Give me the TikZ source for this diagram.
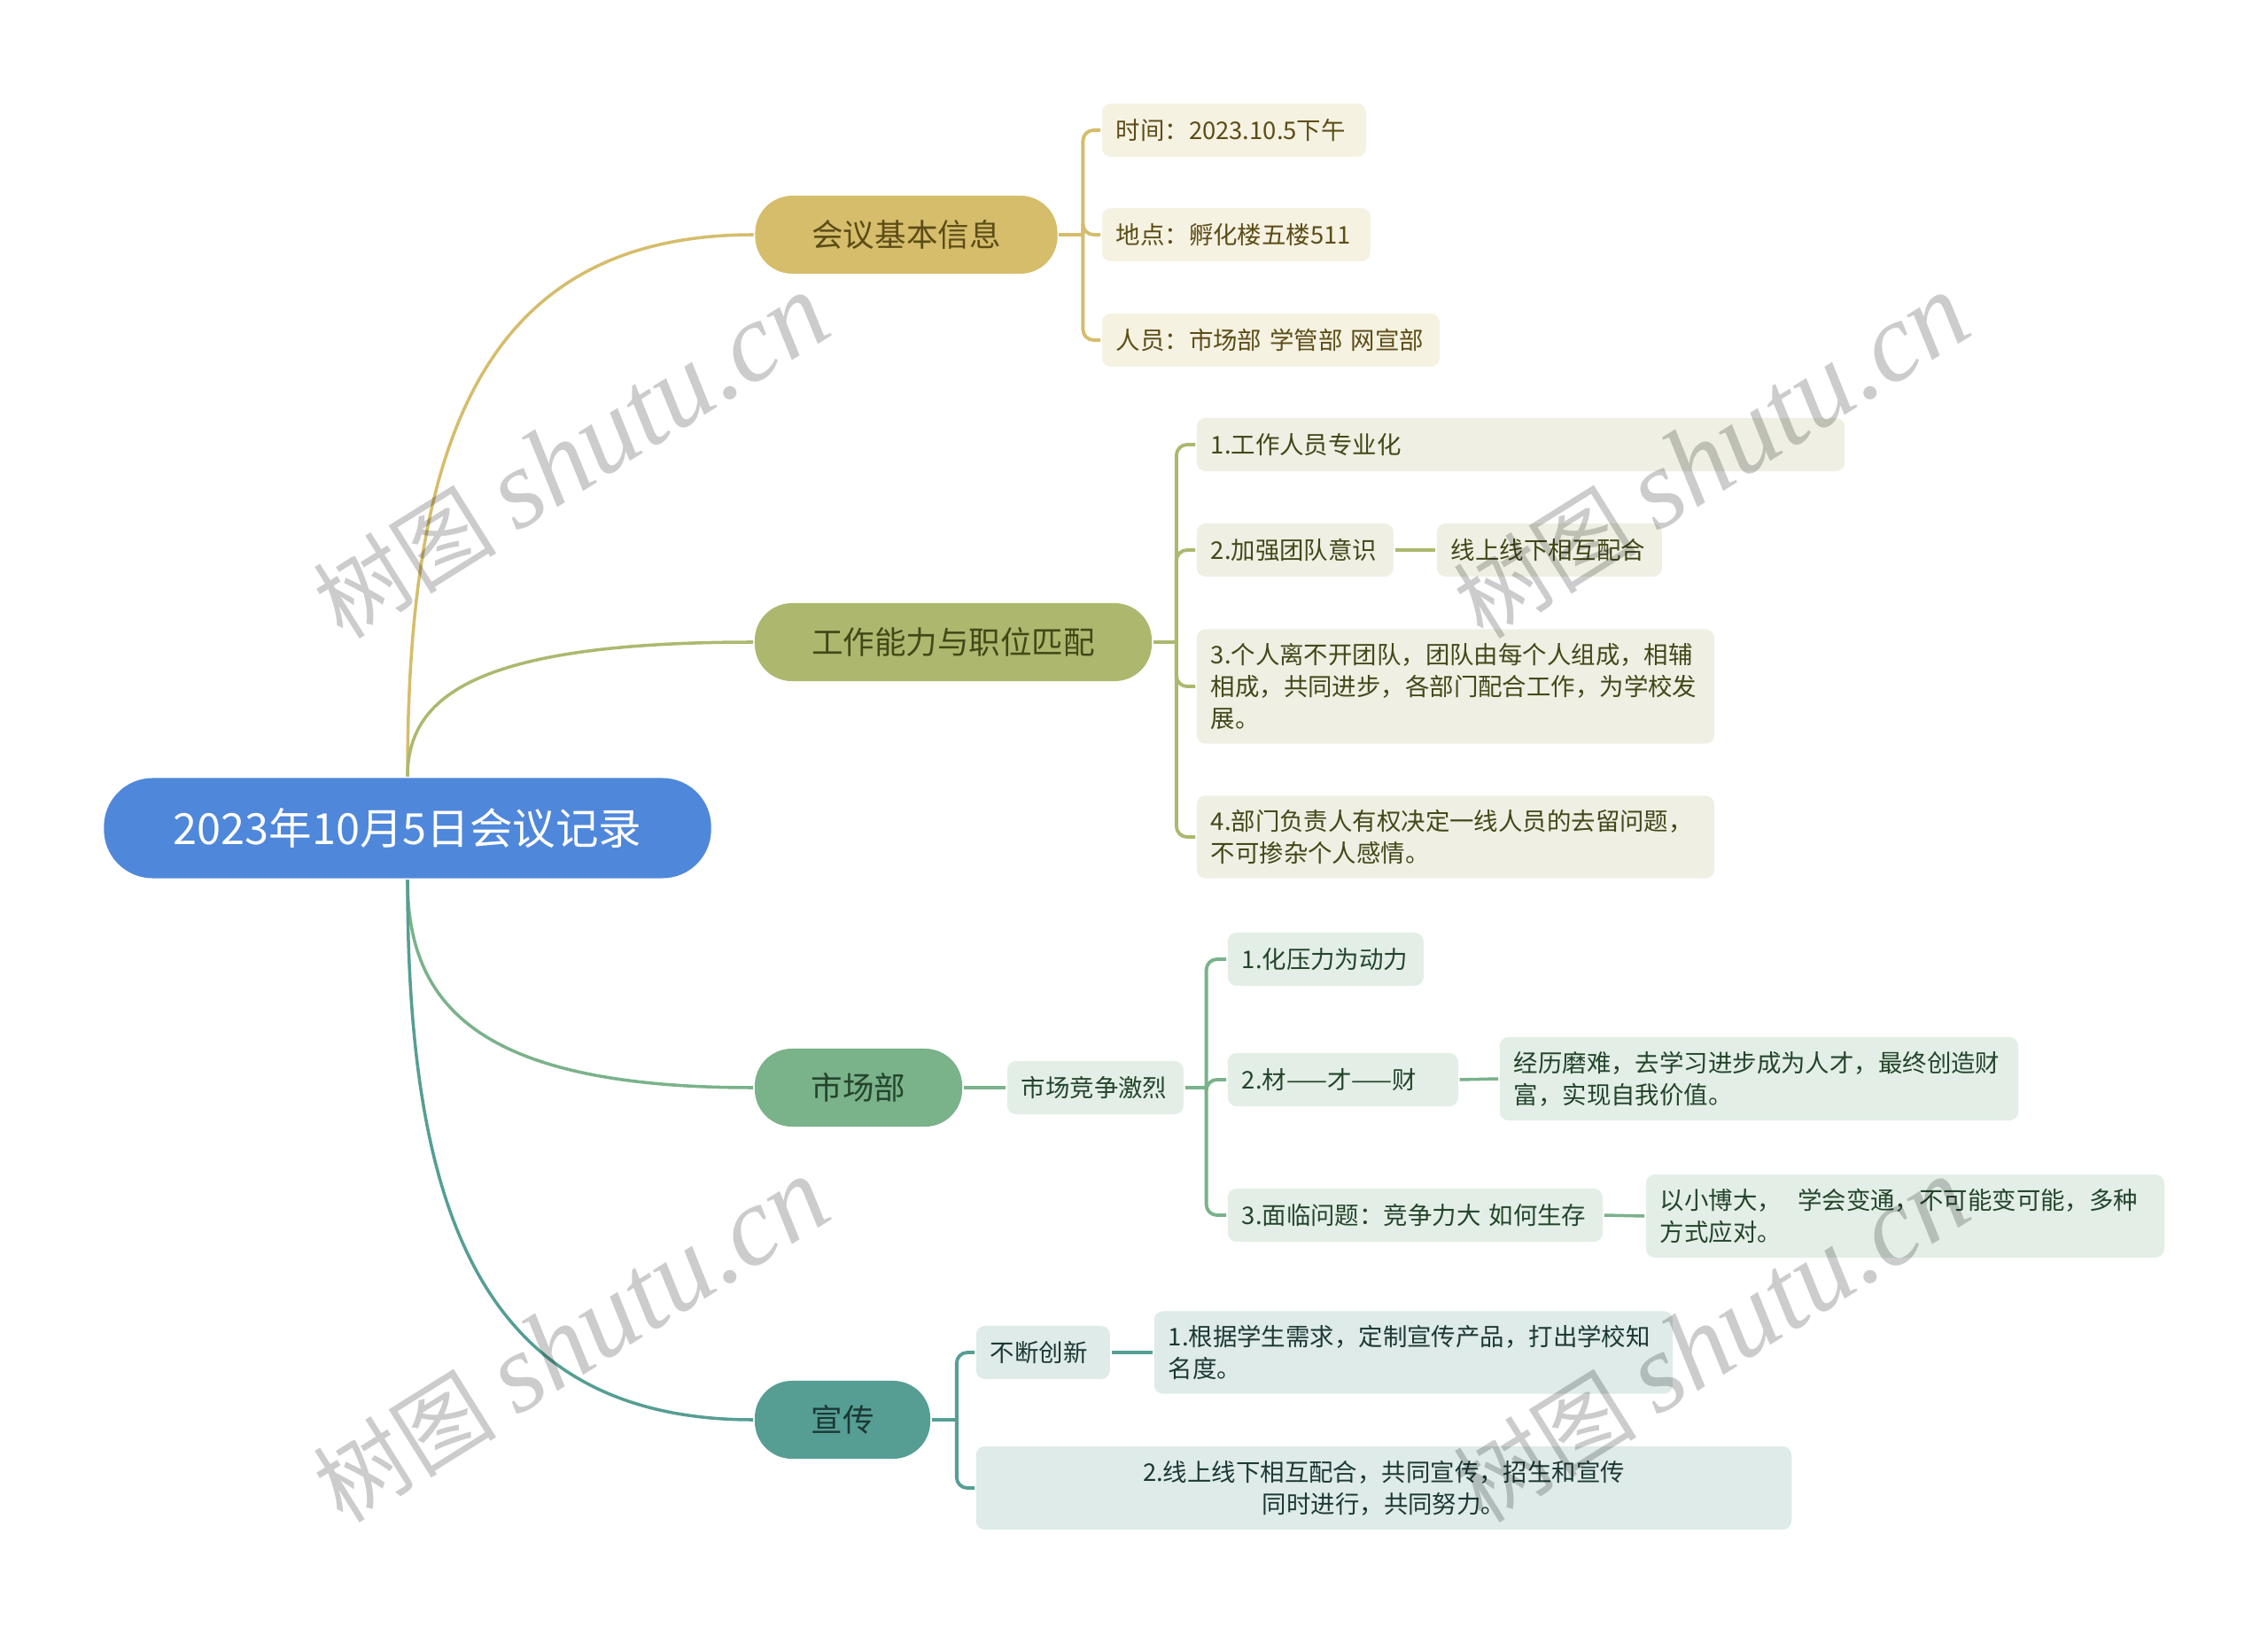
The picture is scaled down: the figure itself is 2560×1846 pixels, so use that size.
\documentclass[tikz,border=0pt]{standalone}
\usepackage{fontspec}
\newfontfamily\cjk{Noto Sans CJK SC}
\newfontfamily\wmserif{Liberation Serif}
\usetikzlibrary{calc}
\definecolor{rootC}{RGB}{79,135,218}
\definecolor{infoC}{RGB}{213,189,108}
\definecolor{infoL}{RGB}{246,242,226}
\definecolor{infoT}{RGB}{92,76,22}
\definecolor{workC}{RGB}{173,184,110}
\definecolor{workL}{RGB}{239,240,227}
\definecolor{workT}{RGB}{66,72,24}
\definecolor{marketC}{RGB}{122,178,138}
\definecolor{marketL}{RGB}{227,239,230}
\definecolor{marketT}{RGB}{36,68,44}
\definecolor{pubC}{RGB}{86,158,148}
\definecolor{pubL}{RGB}{222,235,233}
\definecolor{pubT}{RGB}{28,56,52}

\begin{document}
\begin{tikzpicture}[x=0.01cm, y=-0.01cm, line width=1pt, font=\cjk,
    root/.style={fill=rootC, text=white, rounded corners=0.55cm, minimum width=6.85cm, minimum height=1.13cm,
      font=\cjk\fontsize{13.8}{16}\selectfont},
    topic/.style={fill=#1C, text=#1T, rounded corners=0.42cm, minimum height=0.88cm,
      font=\cjk\fontsize{10.1}{12}\selectfont},
    leaf/.style={fill=#1L, text=#1T, rounded corners=0.1cm, anchor=west, align=left,
      inner xsep=0.16cm, inner ysep=0.16cm, minimum height=0.6cm, font=\cjk\fontsize{7.8}{10.2}\selectfont},
    link/.style={draw=#1C, line width=1pt},
    fork/.style={draw=#1C, line width=1.1pt, rounded corners=0.12cm},
    wmark/.style={rotate=32, opacity=0.2, text=black, inner sep=0pt}]
  \fill[white] (0,0) rectangle (2560,1846);
  % ================================================================ root and main topics
  \node[root] (root) at (460,935) {2023年10月5日会议记录};
  \node[topic=info, minimum width=3.41cm] (info) at (1023,265) {会议基本信息};
  \node[topic=work, minimum width=4.48cm] (work) at (1076,725) {工作能力与职位匹配};
  \node[topic=market, minimum width=2.34cm] (market) at (969,1228) {市场部};
  \node[topic=pub, minimum width=1.98cm] (pub) at (951,1603) {宣传};
  \foreach \t/\a in {info/north, work/north, market/south, pub/south}
    \draw[link=\t] (root.\a) .. controls ($(root.\a |- \t.west)!0.4!(root.\a)$)
      and ($(root.\a |- \t.west)!0.2!(\t.west)$) .. (\t.west);
  % ================================================================ meeting info
  \node[leaf=info, text width=2.66cm] (itime) at (1242,147) {时间：2023.10.5下午};
  \node[leaf=info, text width=2.71cm] (iplace) at (1242,265) {地点：孵化楼五楼511};
  \node[leaf=info, text width=3.49cm] (ipeople) at (1242,384) {人员：市场部 学管部 网宣部};
  \coordinate (infoJ) at ([xshift=0.27cm]info.east);
  \draw[link=info] (info.east) -- (infoJ);
  \foreach \n in {itime, iplace, ipeople} \draw[fork=info] (infoJ) |- (\n.west);
  % ================================================================ ability and post
  \node[leaf=work, text width=6.99cm] (w1) at (1349,502) {1.工作人员专业化};
  \node[leaf=work, text width=1.90cm] (w2) at (1349,621) {2.加强团队意识};
  \node[leaf=work, text width=2.22cm] (w2a) at (1620,621) {线上线下相互配合};
  \node[leaf=work, text width=5.52cm] (w3) at (1349,775)
    {3.个人离不开团队，团队由每个人组成，相辅\\相成，共同进步，各部门配合工作，为学校发\\展。};
  \node[leaf=work, text width=5.52cm] (w4) at (1349,945)
    {4.部门负责人有权决定一线人员的去留问题，\\不可掺杂个人感情。};
  \coordinate (workJ) at ([xshift=0.26cm]work.east);
  \draw[link=work] (work.east) -- (workJ);
  \foreach \n in {w1, w2, w3, w4} \draw[fork=work] (workJ) |- (\n.west);
  \draw[link=work] (w2.east) -- (w2a.west);
  % ================================================================ market
  \node[leaf=market, text width=1.67cm] (mcomp) at (1135,1228) {市场竞争激烈};
  \node[leaf=market, text width=1.89cm] (m1) at (1384,1083) {1.化压力为动力};
  \node[leaf=market, text width=2.28cm] (m2) at (1384,1219) {2.材——才——财};
  \node[leaf=market, text width=5.53cm] (m2a) at (1691,1218)
    {经历磨难，去学习进步成为人才，最终创造财\\富，实现自我价值。};
  \node[leaf=market, text width=3.91cm] (m3) at (1384,1372) {3.面临问题：竞争力大 如何生存};
  \node[leaf=market, text width=5.53cm] (m3a) at (1856,1373)
    {以小博大，\ \ 学会变通，不可能变可能，多种\\方式应对。};
  \draw[link=market] (market.east) -- (mcomp.west);
  \coordinate (marketJ) at ([xshift=0.24cm]mcomp.east);
  \draw[link=market] (mcomp.east) -- (marketJ);
  \foreach \n in {m1, m2, m3} \draw[fork=market] (marketJ) |- (\n.west);
  \draw[link=market] (m2.east) -- (m2a.west);
  \draw[link=market] (m3.east) -- (m3a.west);
  % ================================================================ publicity
  \node[leaf=pub, text width=1.19cm] (pinno) at (1100,1527) {不断创新};
  \node[leaf=pub, text width=5.53cm] (p1) at (1301,1527)
    {1.根据学生需求，定制宣传产品，打出学校知\\名度。};
  \node[leaf=pub, text width=8.88cm, align=center] (p2) at (1100,1680)
    {2.线上线下相互配合，共同宣传，招生和宣传\\同时进行，共同努力。};
  \coordinate (pubJ) at ([xshift=0.28cm]pub.east);
  \draw[link=pub] (pub.east) -- (pubJ);
  \foreach \n in {pinno, p2} \draw[fork=pub] (pubJ) |- (\n.west);
  \draw[link=pub] (pinno.east) -- (p1.west);
  % watermarks
  \foreach \x/\y [count=\i] in {645/516, 1932/516, 645/1514, 1932/1514}
    \node[wmark] (wm\i) at (\x,\y) {\fontsize{29.5}{30}\selectfont\cjk 树图 \wmserif\itshape\fontsize{36}{36}\selectfont shutu.cn};
\end{tikzpicture}
\end{document}
